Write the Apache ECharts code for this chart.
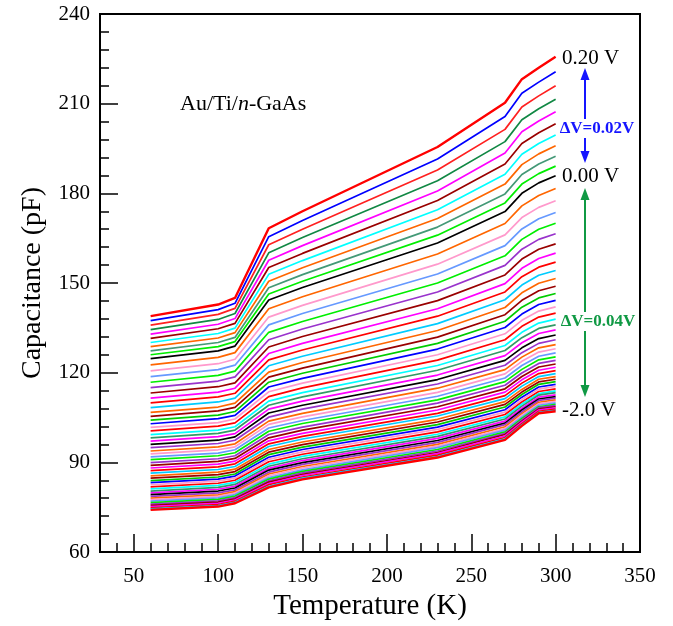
<!DOCTYPE html>
<html>
<head>
<meta charset="utf-8">
<script src="https://cdn.jsdelivr.net/npm/echarts@6/dist/echarts.min.js"></script>
<style>
  html, body { margin: 0; padding: 0; background: #fff; }
  #chart { width: 673px; height: 626px; }
</style>
</head>
<body>
<div id="chart"></div>
<script>
// Measurement temperatures (K)
const temps = [60, 100, 110, 130, 150, 230, 270, 280, 290, 300];

// Capacitance (pF) of every bias curve at each temperature,
// ordered from +0.20 V (top) down to -2.0 V (bottom).
const c60 = [138.9,137.4,135.9,134.4,132.9,131.5,130.1,128.7,127.3,126.0,124.7,
  122.6,120.6,118.7,116.8,115.0,113.2,111.5,109.9,108.3,106.7,
  105.4,104.1,102.9,101.7,100.5,99.3,98.2,97.1,96.0,94.9,
  93.8,92.8,91.8,90.9,89.9,89.0,88.1,87.2,86.4,85.5,
  84.7,83.9,83.2,82.5,81.8,81.1,80.4,79.8,79.2,78.6,
  78.0,77.5,77.0,76.5,76.0,75.6,75.2,74.8,74.4,74.1];
const c100 = [142.8,141.1,139.5,137.8,136.2,134.7,133.1,131.6,130.1,128.7,127.3,
  125.1,123.0,121.0,119.1,117.2,115.3,113.5,111.9,110.2,108.5,
  107.2,105.8,104.6,103.3,102.1,100.8,99.7,98.6,97.4,96.3,
  95.2,94.2,93.1,92.2,91.2,90.3,89.4,88.5,87.6,86.7,
  85.9,85.1,84.4,83.7,83.0,82.3,81.6,81.0,80.4,79.8,
  79.1,78.6,78.1,77.6,77.1,76.7,76.3,75.9,75.5,75.2];
const c110 = [145.0,143.2,141.5,139.8,138.1,136.5,134.9,133.4,131.8,130.4,128.9,
  126.7,124.5,122.5,120.5,118.6,116.6,114.8,113.1,111.5,109.8,
  108.4,107.0,105.7,104.5,103.2,101.9,100.8,99.6,98.5,97.4,
  96.2,95.2,94.2,93.2,92.2,91.3,90.4,89.5,88.6,87.7,
  86.9,86.1,85.4,84.7,84.0,83.3,82.6,82.0,81.4,80.8,
  80.2,79.7,79.2,78.7,78.2,77.8,77.4,77.0,76.6,76.3];
const c130 = [168.3,165.5,162.8,160.1,157.6,155.2,152.9,150.6,148.4,146.3,144.3,
  141.4,138.6,136.0,133.5,131.0,128.6,126.4,124.3,122.3,120.2,
  118.5,116.8,115.2,113.6,112.0,110.5,109.1,107.8,106.5,105.1,
  103.8,102.7,101.5,100.4,99.3,98.2,97.2,96.2,95.3,94.3,
  93.4,92.6,91.7,91.0,90.2,89.4,88.7,88.0,87.4,86.7,
  86.1,85.5,84.9,84.4,83.8,83.4,82.9,82.5,82.0,81.6];
const c150 = [174.0,170.9,168.0,165.2,162.5,159.9,157.5,155.1,152.8,150.6,148.5,
  145.4,142.5,139.8,137.1,134.6,132.1,129.8,127.6,125.5,123.4,
  121.5,119.8,118.1,116.5,114.9,113.3,111.9,110.5,109.1,107.8,
  106.4,105.2,104.0,103.0,101.8,100.8,99.7,98.7,97.8,96.8,
  95.9,95.1,94.3,93.5,92.7,92.0,91.2,90.6,89.9,89.3,
  88.6,88.1,87.5,87.0,86.5,86.0,85.6,85.1,84.7,84.3];
const c230 = [195.5,191.5,187.8,184.2,180.8,177.6,174.5,171.6,168.7,166.0,163.4,
  159.7,156.3,153.0,150.0,147.0,144.1,141.4,138.9,136.4,134.1,
  131.9,129.8,127.9,126.0,124.2,122.4,120.8,119.2,117.7,116.2,
  114.8,113.4,112.1,110.9,109.8,108.6,107.5,106.4,105.5,104.4,
  103.5,102.6,101.8,101.0,100.2,99.4,98.7,98.0,97.3,96.7,
  96.0,95.4,94.9,94.3,93.8,93.3,92.9,92.4,91.9,91.6];
const c270 = [210.3,205.7,201.4,197.3,193.5,189.8,186.4,183.1,179.8,176.8,173.9,
  169.9,166.1,162.5,159.1,155.9,152.7,149.8,147.0,144.4,141.8,
  139.4,137.2,135.1,133.0,131.0,129.1,127.4,125.7,124.1,122.5,
  121.0,119.6,118.2,117.0,115.8,114.6,113.5,112.3,111.3,110.3,
  109.4,108.5,107.6,106.8,106.0,105.2,104.5,103.8,103.1,102.6,
  101.9,101.3,100.8,100.2,99.7,99.3,98.8,98.3,97.9,97.5];
const c280 = [218.2,213.5,208.9,204.6,200.6,196.7,193.1,189.6,186.3,183.1,180.0,
  175.8,171.9,168.1,164.6,161.3,158.0,154.9,152.1,149.3,146.7,
  144.2,141.9,139.6,137.5,135.5,133.5,131.7,130.0,128.3,126.7,
  125.2,123.8,122.4,121.1,119.9,118.7,117.6,116.5,115.5,114.4,
  113.5,112.7,111.8,111.0,110.2,109.5,108.8,108.1,107.5,106.9,
  106.3,105.8,105.2,104.7,104.2,103.8,103.4,102.9,102.5,102.2];
const c290 = [222.0,217.2,212.6,208.3,204.2,200.3,196.7,193.2,189.8,186.6,183.5,
  179.3,175.3,171.5,168.0,164.6,161.3,158.2,155.3,152.6,149.9,
  147.4,145.0,142.8,140.6,138.6,136.6,134.8,133.1,131.4,129.8,
  128.3,126.9,125.5,124.3,123.1,121.9,120.8,119.7,118.7,117.8,
  116.9,116.1,115.2,114.5,113.7,113.0,112.5,111.8,111.2,110.7,
  110.1,109.6,109.1,108.6,108.3,107.9,107.5,107.1,106.7,106.4];
const c300 = [225.7,220.7,216.0,211.5,207.3,203.3,199.5,195.9,192.4,189.1,185.9,
  181.6,177.5,173.6,170.0,166.5,163.1,160.0,157.0,154.2,151.5,
  148.9,146.5,144.2,142.0,139.9,137.9,136.0,134.3,132.6,131.0,
  129.4,128.0,126.6,125.3,124.1,122.9,121.8,120.7,119.7,118.7,
  117.8,117.0,116.1,115.4,114.6,113.9,113.3,112.6,112.0,111.5,
  110.9,110.4,109.9,109.4,109.0,108.6,108.2,107.8,107.4,107.1];

const columns = [c60, c100, c110, c130, c150, c230, c270, c280, c290, c300];

// Axis tick labels
const xTickLabels = [50, 100, 150, 200, 250, 300, 350];
const yTickLabels = [60, 90, 120, 150, 180, 210, 240];

// Line colours: forward-bias curves, then a repeating set for reverse bias
const forwardColors = ['#ff0000','#0000ff','#ff2020','#118844','#ff00ff','#990000',
  '#00ffff','#ff6600','#449977','#00ee00','#000000'];
const reverseColors = ['#ff6600','#ff99cc','#6699ff','#00ee00','#9933cc','#990000',
  '#ff00ff','#ff0000','#00ccff','#ff6600','#990000','#00cc00','#0000ff','#ff99cc',
  '#ff0000','#00ffff','#339966','#ff00ff','#000000','#9933cc'];

const nCurves = c60.length;
const serif = 'Liberation Serif, Times New Roman, serif';

function curveColor(k) {
  if (k === nCurves - 1) return '#ff0000';
  if (k < forwardColors.length) return forwardColors[k];
  return reverseColors[(k - forwardColors.length) % reverseColors.length];
}
function biasName(k) {
  const v = k <= 10 ? 0.20 - 0.02 * k : -0.04 * (k - 10);
  return v.toFixed(2) + ' V';
}

const series = [];
for (let k = 0; k < nCurves; k++) {
  const edge = (k === 0 || k === nCurves - 1);
  series.push({
    name: biasName(k),
    type: 'line',
    xAxisIndex: 0,
    yAxisIndex: 0,
    data: temps.map((t, i) => [t, columns[i][k]]),
    symbol: 'none',
    silent: true,
    lineStyle: { color: curveColor(k), width: edge ? 2.4 : 1.7 },
    z: 2 + (edge ? 1 : 0)
  });
}

const tickStyle = { color: '#000', width: 1.5 };

const chart = echarts.init(document.getElementById('chart'), null, { renderer: 'canvas' });

// Double-headed arrow pieces with a gap for the step label
function arrow(x, yTop, yBot, gapTop, gapBot, color) {
  const w = 4.5, h = 12;
  return [
    { type: 'polygon', shape: { points: [[x, yTop], [x - w, yTop + h], [x + w, yTop + h]] }, style: { fill: color } },
    { type: 'line', shape: { x1: x, y1: yTop + h - 2, x2: x, y2: gapTop }, style: { stroke: color, lineWidth: 2 } },
    { type: 'line', shape: { x1: x, y1: gapBot, x2: x, y2: yBot - h + 2 }, style: { stroke: color, lineWidth: 2 } },
    { type: 'polygon', shape: { points: [[x, yBot], [x - w, yBot - h], [x + w, yBot - h]] }, style: { fill: color } }
  ];
}

const blue = '#1515ff';
const green = '#109944';

const labelText = (x, y, text, extra) => ({
  type: 'text', x: x, y: y,
  style: Object.assign({ text: text, font: '21px ' + serif, fill: '#000', textVerticalAlign: 'middle' }, extra || {})
});

chart.setOption({
  animation: false,
  backgroundColor: '#fff',
  grid: { left: 100, right: 33, top: 14, bottom: 73, show: true, borderColor: '#000', borderWidth: 2, backgroundColor: 'transparent' },
  xAxis: [
    {
      type: 'value', min: 30, max: 350, interval: 10,
      axisLine: { show: true, lineStyle: { color: '#000', width: 2 } },
      axisTick: { show: true, inside: true, length: 9, lineStyle: tickStyle },
      axisLabel: {
        formatter: v => (xTickLabels.indexOf(v) >= 0 ? String(v) : ''),
        fontFamily: serif, fontSize: 21, color: '#000', margin: 14
      },
      splitLine: { show: false },
      name: 'Temperature (K)', nameLocation: 'middle', nameGap: 40,
      nameTextStyle: { fontFamily: serif, fontSize: 29, color: '#000' }
    },
    {
      type: 'value', min: 30, max: 350, position: 'bottom',
      axisLine: { show: false }, axisLabel: { show: false }, splitLine: { show: false },
      axisTick: { show: true, inside: true, length: 18, lineStyle: tickStyle,
        customValues: xTickLabels.slice(0, -1) }
    }
  ],
  yAxis: [
    {
      type: 'value', min: 60, max: 240, interval: 6,
      axisLine: { show: true, lineStyle: { color: '#000', width: 2 } },
      axisTick: { show: true, inside: true, length: 9, lineStyle: tickStyle },
      axisLabel: {
        formatter: v => (yTickLabels.indexOf(v) >= 0 ? String(v) : ''),
        fontFamily: serif, fontSize: 21, color: '#000', margin: 10
      },
      splitLine: { show: false },
      name: 'Capacitance (pF)', nameLocation: 'middle', nameGap: 53,
      nameTextStyle: { fontFamily: serif, fontSize: 28, color: '#000' }
    },
    {
      type: 'value', min: 60, max: 240, position: 'left',
      axisLine: { show: false }, axisLabel: { show: false }, splitLine: { show: false },
      axisTick: { show: true, inside: true, length: 18, lineStyle: tickStyle,
        customValues: yTickLabels.slice(1, -1) }
    }
  ],
  series: series,
  graphic: [
    { type: 'text', x: 180, y: 104, style: {
        text: '{r|Au/Ti/}{i|n}{r|-GaAs}', textVerticalAlign: 'middle',
        rich: { r: { font: '22px ' + serif, fill: '#000' }, i: { font: 'italic 22px ' + serif, fill: '#000' } } } },
    labelText(562, 58, '0.20 V'),
    labelText(562, 176, '0.00 V'),
    labelText(562, 410, '-2.0 V'),
    { type: 'text', x: 597, y: 129, style: { text: '\u0394V=0.02V', font: 'bold 17px ' + serif, fill: blue, textAlign: 'center', textVerticalAlign: 'middle' } },
    { type: 'text', x: 598, y: 322, style: { text: '\u0394V=0.04V', font: 'bold 17px ' + serif, fill: green, textAlign: 'center', textVerticalAlign: 'middle' } }
  ].concat(arrow(585, 68, 163, 119, 138, blue), arrow(585, 188, 397, 312, 331, green))
});
</script>
</body>
</html>
